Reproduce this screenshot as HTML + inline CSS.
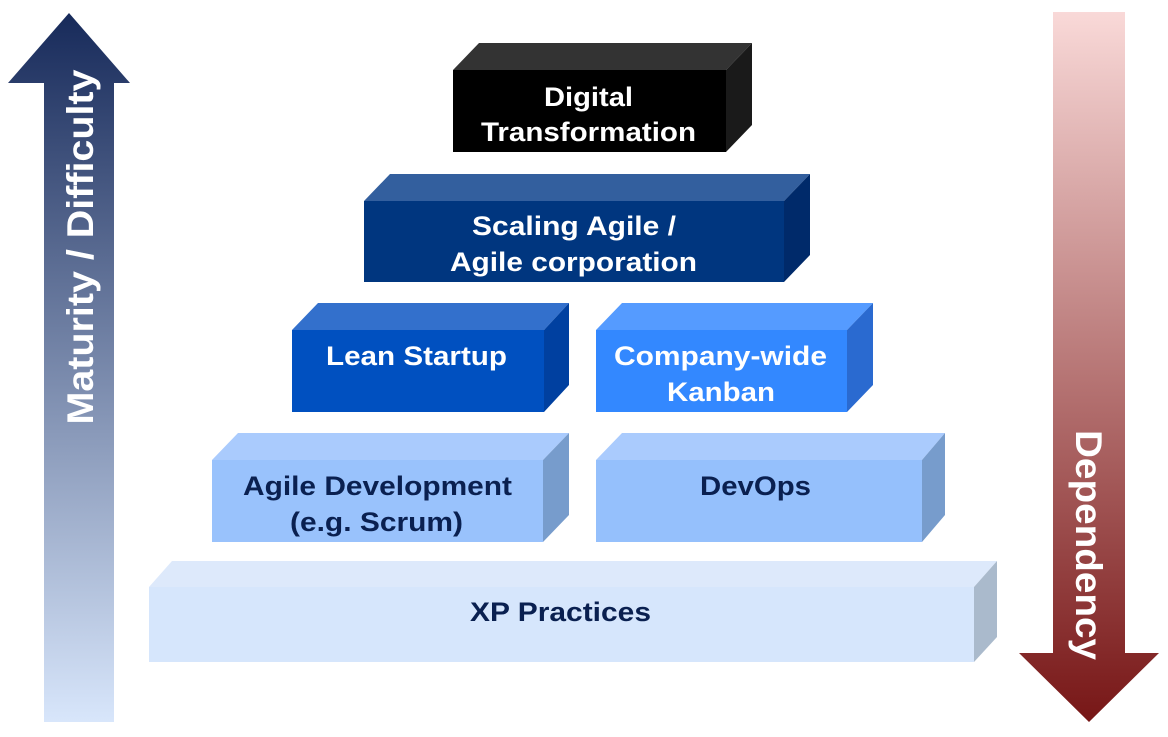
<!DOCTYPE html>
<html><head><meta charset="utf-8"><style>
html,body{margin:0;padding:0;background:#fff;}
svg{display:block;font-family:"Liberation Sans",Arial,sans-serif;font-weight:bold;}
</style></head><body>
<svg width="1168" height="737" viewBox="0 0 1168 737">
<defs>
<linearGradient id="lg" x1="0" y1="0" x2="0" y2="1">
<stop offset="0" stop-color="#172a5a"/><stop offset="1" stop-color="#d8e6fb"/></linearGradient>
<linearGradient id="rg" x1="0" y1="0" x2="0" y2="1">
<stop offset="0" stop-color="#f9d9d8"/><stop offset="1" stop-color="#771616"/></linearGradient>
</defs>
<polygon points="69,13 130,83 114,83 114,722 44,722 44,83 8,83" fill="url(#lg)"/>
<polygon points="1053,12 1125,12 1125,653 1159,653 1089,722 1019,653 1053,653" fill="url(#rg)"/>
<text transform="translate(83,247) rotate(-90)" text-anchor="middle" font-size="37" fill="#fff" dominant-baseline="middle" textLength="355" lengthAdjust="spacingAndGlyphs">Maturity / Difficulty</text>
<text transform="translate(1086,545) rotate(90)" text-anchor="middle" font-size="37" fill="#fff" dominant-baseline="middle" textLength="230" lengthAdjust="spacingAndGlyphs">Dependency</text>

<polygon points="453,70 479,43 752,43 726,70" fill="#333"/>
<polygon points="726,70 752,43 752,125 726,152" fill="#1a1a1a"/>
<rect x="453" y="70" width="273" height="82" fill="#000"/>
<polygon points="364,201 390,174 810,174 784,201" fill="#335f9e"/>
<polygon points="784,201 810,174 810,255 784,282" fill="#002a6a"/>
<rect x="364" y="201" width="420" height="81" fill="#00367f"/>
<polygon points="292,330 318,303 569,303 544,330" fill="#3370cc"/>
<polygon points="544,330 569,303 569,385 544,412" fill="#0040a0"/>
<rect x="292" y="330" width="252" height="82" fill="#0050c0"/>
<polygon points="596,330 622,303 873,303 847,330" fill="#559bff"/>
<polygon points="847,330 873,303 873,385 847,412" fill="#2a6ad0"/>
<rect x="596" y="330" width="251" height="82" fill="#3388ff"/>
<polygon points="212,460 238,433 569,433 543,460" fill="#aacbfd"/>
<polygon points="543,460 569,433 569,515 543,542" fill="#779ccc"/>
<rect x="212" y="460" width="331" height="82" fill="#99c2fc"/>
<polygon points="596,460 622,433 945,433 922,460" fill="#aacbfd"/>
<polygon points="922,460 945,433 945,515 922,542" fill="#779ccc"/>
<rect x="596" y="460" width="326" height="82" fill="#95c0fc"/>
<polygon points="149,587 172,561 997,561 974,587" fill="#dde9fb"/>
<polygon points="974,587 997,561 997,637 974,662" fill="#aabacc"/>
<rect x="149" y="587" width="825" height="75" fill="#d6e6fc"/>

<g font-size="27" fill="#fff" lengthAdjust="spacingAndGlyphs">
<text x="544" y="106" textLength="89" lengthAdjust="spacingAndGlyphs">Digital</text>
<text x="481" y="141" textLength="215" lengthAdjust="spacingAndGlyphs">Transformation</text>
<text x="472" y="235" textLength="204" lengthAdjust="spacingAndGlyphs">Scaling Agile /</text>
<text x="450" y="271" textLength="247" lengthAdjust="spacingAndGlyphs">Agile corporation</text>
<text x="326" y="365" textLength="181" lengthAdjust="spacingAndGlyphs">Lean Startup</text>
<text x="614" y="365" textLength="213" lengthAdjust="spacingAndGlyphs">Company-wide</text>
<text x="667" y="401" textLength="108" lengthAdjust="spacingAndGlyphs">Kanban</text>
</g>
<g font-size="27" fill="#0a2050">
<text x="243" y="495" textLength="269" lengthAdjust="spacingAndGlyphs">Agile Development</text>
<text x="290" y="531" textLength="173" lengthAdjust="spacingAndGlyphs">(e.g. Scrum)</text>
<text x="700" y="495" textLength="111" lengthAdjust="spacingAndGlyphs">DevOps</text>
<text x="470" y="621" textLength="181" lengthAdjust="spacingAndGlyphs">XP Practices</text>
</g>
</svg>
</body></html>
